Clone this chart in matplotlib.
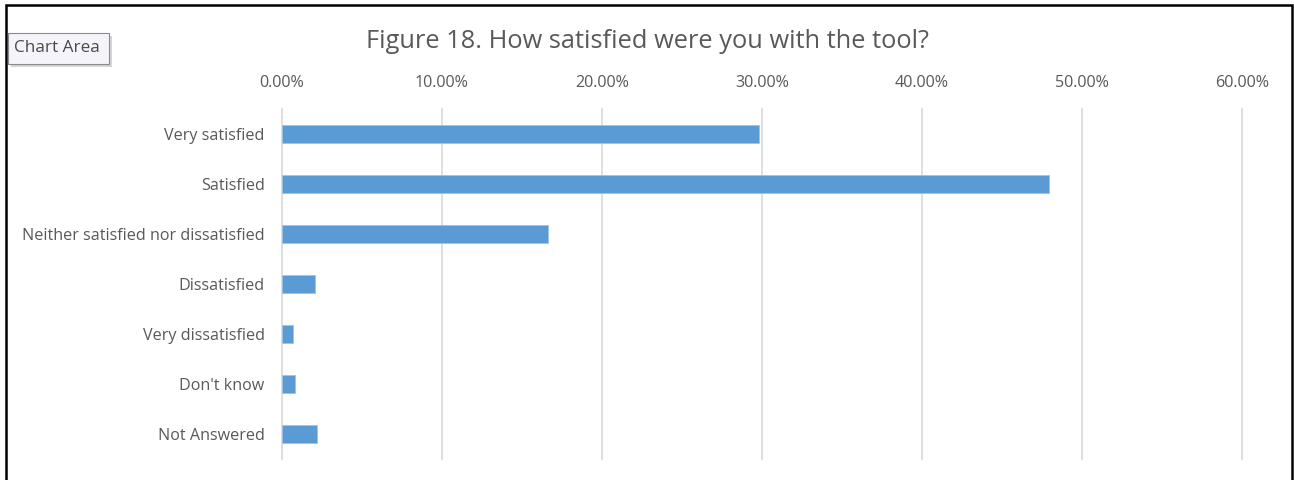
import matplotlib
matplotlib.use("Agg")
import matplotlib.pyplot as plt
from matplotlib.patches import Rectangle
from matplotlib.ticker import FuncFormatter

categories = ["Very satisfied", "Satisfied", "Neither satisfied nor dissatisfied",
              "Dissatisfied", "Very dissatisfied", "Don't know", "Not Answered"]
values = [29.8, 47.95, 16.6, 2.08, 0.67, 0.83, 2.17]
xticks = [0, 10, 20, 30, 40, 50, 60]
title = "Figure 18. How satisfied were you with the tool?"

plt.rcParams['font.family'] = ['Open Sans', 'DejaVu Sans']

W, H = 1294, 480
fig = plt.figure(figsize=(W/100, H/100), dpi=100)

# axes: x 282..1242, y 109..459 (pixels from top)
ax = fig.add_axes([282/W, 1 - 459/H, (1242-282)/W, (459-109)/H])
ypos = list(range(len(categories)))
ax.barh(ypos, values, height=0.35, color="#5B9BD5", edgecolor="#9DC3E6", linewidth=0.6, zorder=3)
ax.set_ylim(len(categories) - 0.5, -0.5)
ax.set_xlim(0, 60)
ax.set_xticks(xticks)
ax.xaxis.set_major_formatter(FuncFormatter(lambda v, p: f"{v:.2f}%"))
ax.xaxis.tick_top()
ax.set_yticks(ypos)
ax.set_yticklabels(categories)
ax.tick_params(axis='both', length=0, colors="#595959", labelsize=11.6)
ax.tick_params(axis='x', pad=13)
ax.tick_params(axis='y', pad=12.5)
ax.grid(axis='x', color="#D9D9D9", linewidth=1.2, zorder=0)
for gl in ax.get_xgridlines():
    gl.set_clip_on(False)
for s in ax.spines.values():
    s.set_visible(False)

fig.text(648/W, 1 - 42/H, title, ha='center', va='center', fontsize=18.3, color="#595959")

# outer black border
fig.patches.append(Rectangle((6/W, -0.02), (1292-6)/W, (H-5)/H + 0.02, transform=fig.transFigure,
                             fill=False, edgecolor="black", linewidth=1.8, zorder=10))

# "Chart Area" tooltip
fig.patches.append(Rectangle((11/W, 1 - 67/H), 101/W, 31/H, transform=fig.transFigure,
                             facecolor="#BBBBBB", edgecolor="none", zorder=11, alpha=0.6))
fig.patches.append(Rectangle((8/W, 1 - 64/H), 101/W, 31/H, transform=fig.transFigure,
                             facecolor="#F4F4FA", edgecolor="#8A8A8A", linewidth=0.8, zorder=12))
fig.text(57/W, 1 - 48/H, "Chart Area", ha='center', va='center', fontsize=12.3, color="#4A4A4A", zorder=13)

fig.savefig("out.png", dpi=100)
